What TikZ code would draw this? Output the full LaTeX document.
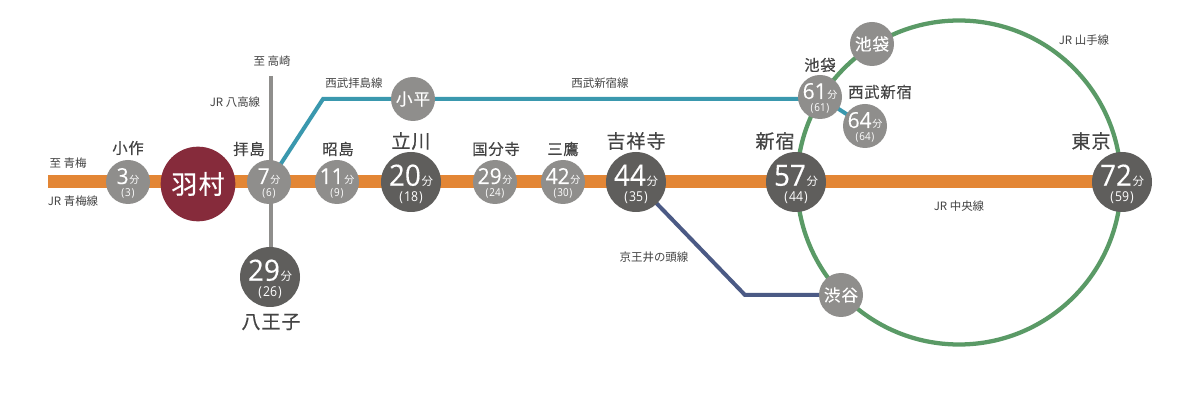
\documentclass[tikz,border=0pt]{standalone}
\usepackage{fontspec}
\setmainfont{Noto Sans CJK JP}
\newfontfamily\numfont[FakeStretch=0.95,FakeBold=0.25]{Open Sans}
\newfontfamily\parfont[FakeStretch=0.9]{Open Sans}
\newfontfamily\spfont[LetterSpace=5,FakeBold=0.35]{Noto Sans CJK JP}
\usetikzlibrary{backgrounds}
\definecolor{orangeline}{HTML}{E38635}
\definecolor{darkst}{HTML}{5F5E5C}
\definecolor{midst}{HTML}{8F8E8C}
\definecolor{maroon}{HTML}{862B3B}
\definecolor{tealline}{HTML}{3A98AE}
\definecolor{greenline}{HTML}{5A9A66}
\definecolor{navyline}{HTML}{4B5A85}
\definecolor{txt}{HTML}{444444}
\newcommand{\fs}[1]{\fontsize{#1}{#1}\selectfont}
% zero-size content: the node's centre is the reference point of both lines
\newcommand{\twolines}[4]{\makebox[0pt]{\raisebox{-#2}[0pt][0pt]{#1}}\makebox[0pt]{\raisebox{-#4}[0pt][0pt]{#3}}}
\newcommand{\smallT}[2]{\twolines{{\numfont\fs{16.5}#1}\kern.5pt{\fs{7.5}分}}{1.5pt}{\parfont\fs{8.2}(\kern.6pt#2\kern.6pt)}{11.2pt}}
\newcommand{\bigT}[2]{\twolines{{\numfont\fs{22}#1}\kern.5pt{\fs{8.6}分}}{2.8pt}{\parfont\fs{10.2}(\kern.8pt#2\kern.8pt)}{15pt}}
\tikzset{x=0.75pt,y=-0.75pt,
 st/.style={circle,inner sep=0pt,text=white,align=center},
 smallst/.style={st,fill=midst,minimum size=33pt},
 bigst/.style={st,fill=darkst,minimum size=45pt},
 namest/.style={st,fill=midst,minimum size=33pt,font=\spfont\fs{12.5}},
 home/.style={st,fill=maroon,minimum size=56pt,font=\spfont\fs{19.5}},
 lab/.style={text=txt,inner sep=0pt,font=\fs{8.6}},
 stlab/.style={text=txt,inner sep=0pt,font=\spfont\fs{11.5}},
 biglab/.style={text=txt,inner sep=0pt,font=\spfont\fs{14.3}},
 tealln/.style={draw=tealline,line width=3pt},
 navyln/.style={draw=navyline,line width=3pt},
 grayln/.style={draw=midst,line width=3pt},
 orangeln/.style={draw=orangeline,line width=9.75pt},
 greenln/.style={draw=greenline,line width=3.2pt}}
\begin{document}
\begin{tikzpicture}
\useasboundingbox (0,0) rectangle (1200,420);
% stations
\node[smallst] (kosaku) at (128,182) {\smallT{3}{3}};
\node[home] (hamura) at (198,184) {羽村};
\node[smallst] (haijima) at (269,182) {\smallT{7}{6}};
\node[smallst] (akishima) at (337,182) {\smallT{11}{9}};
\node[bigst] (tachikawa) at (411,182) {\bigT{20}{18}};
\node[namest] (kodaira) at (413,99) {小平};
\node[smallst] (kokubunji) at (495,182) {\smallT{29}{24}};
\node[smallst] (mitaka) at (563,182) {\smallT{42}{30}};
\node[bigst] (kichijoji) at (636,182) {\bigT{44}{35}};
\node[bigst] (shinjuku) at (796,182) {\bigT{57}{44}};
\node[bigst] (tokyo) at (1122,182) {\bigT{72}{59}};
\node[smallst] (ikebukuroS) at (820,97) {\smallT{61}{61}};
\node[smallst] (seibushinjuku) at (865,126) {\smallT{64}{64}};
\node[namest] (ikebukuro) at (872,44) {池袋};
\node[namest] (shibuya) at (841,295) {渋谷};
\node[bigst] (hachioji) at (270,277) {\bigT{29}{26}};
% free ends and bends
\coordinate (west) at (48,182);
\coordinate (north) at (271,76);
\coordinate (bendT) at (323,99);
\coordinate (bendN) at (745,295);
\coordinate (ring) at (959,182.5);
% lines
\begin{scope}[on background layer]
\fill[white] (0,0) rectangle (1200,420);
\draw[greenln] (ring) circle[radius=121.5pt];
\draw[orangeln] (west) -- (tokyo.center);
\draw[grayln] (north) -- (north |- hachioji.center);
\draw[tealln] (haijima.center) -- (bendT) -- (kodaira.center) -- (kodaira.center -| ikebukuroS.center);
\draw[tealln] (ikebukuroS.center) -- (seibushinjuku.center);
\draw[navyln] (kichijoji.center) -- (bendN) -- (shibuya.center);
\end{scope}
% station names
\node[stlab] (lkosaku) at (128,148) {小作};
\node[stlab] (lhaijima) at (249,149) {拝島};
\node[stlab] (lakishima) at (338,149) {昭島};
\node[biglab] (ltachikawa) at (411,141) {立川};
\node[stlab] (lkokubunji) at (496,149) {国分寺};
\node[stlab] (lmitaka) at (563,149) {三鷹};
\node[biglab] (lkichijoji) at (636,141) {吉祥寺};
\node[biglab] (lshinjuku) at (775,141) {新宿};
\node[biglab] (ltokyo) at (1091,141) {東京};
\node[stlab] (likebukuro) at (820,65) {池袋};
\node[stlab] (lseibu) at (880,92) {西武新宿};
\node[biglab] (lhachioji) at (271,322) {八王子};
% line labels
\node[lab] (t1) at (68,163) {至 青梅};
\node[lab] (t2) at (73,201) {JR 青梅線};
\node[lab] (t3) at (272,61) {至 高崎};
\node[lab] (t4) at (235,102) {JR 八高線};
\node[lab] (t5) at (354,83) {西武拝島線};
\node[lab] (t6) at (600,83) {西武新宿線};
\node[lab] (t7) at (654,257) {京王井の頭線};
\node[lab] (t8) at (959,206) {JR 中央線};
\node[lab] (t9) at (1084,40) {JR 山手線};
\end{tikzpicture}
\end{document}
